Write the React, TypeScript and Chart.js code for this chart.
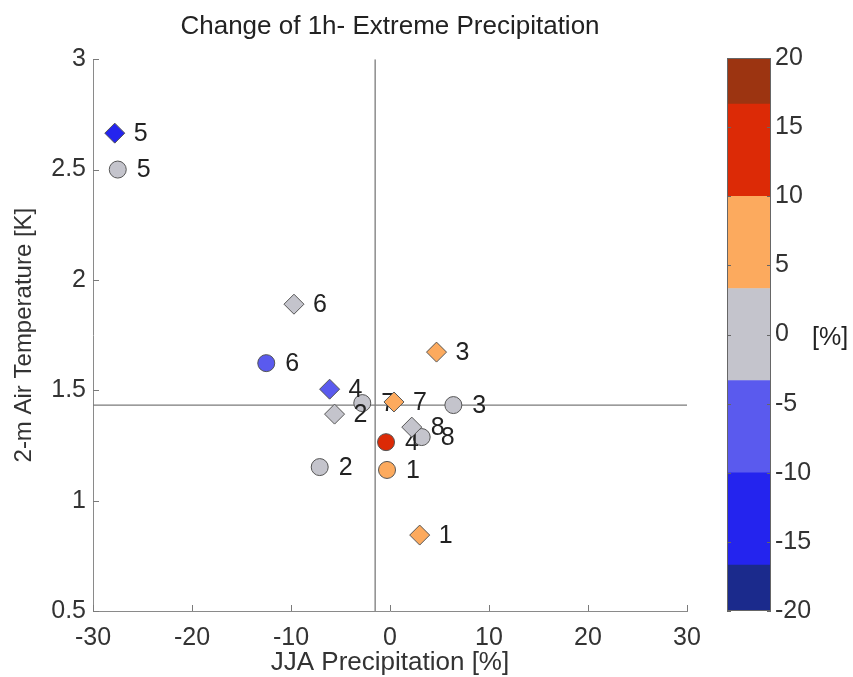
import React, { useEffect, useRef } from 'react';
import { Chart, registerables } from 'chart.js';

Chart.register(...registerables);

const FONT = '"Liberation Sans", Arial, Helvetica, sans-serif';

// ---- data ----
const circleLabels = ['5', '6', '7', '3', '8', '4', '2', '1'];
const circleX = [-27.5, -12.5, -2.8, 6.4, 3.2, -0.4, -7.1, -0.3];
const circleY = [2.5, 1.623, 1.442, 1.433, 1.288, 1.265, 1.152, 1.139];
const circleChange = [0, -7, 0, 0, 0, 12, 0, 6];

const diamondLabels = ['5', '6', '4', '2', '7', '3', '8', '1'];
const diamondX = [-27.8, -9.7, -6.1, -5.6, 0.4, 4.7, 2.2, 3.0];
const diamondY = [2.665, 1.89, 1.505, 1.392, 1.447, 1.673, 1.333, 0.844];
const diamondChange = [-13, 0, -7, 0, 6, 6, 0, 6];

const refX = -1.5;
const refY = 1.433;

const xTicks = [-30, -20, -10, 0, 10, 20, 30];
const yTicks = [0.5, 1, 1.5, 2, 2.5, 3];

const cbEdges = [-20, -16.67, -10, -3.33, 3.33, 10, 16.67, 20];
const cbColors = ['#1b2a8c', '#2424ee', '#5a5aee', '#c4c4cc', '#fcaa5e', '#dc2a06', '#9c3411'];
const cbTicks = [-20, -15, -10, -5, 0, 5, 10, 15, 20];

function colorFor(v: number): string {
  for (let i = 0; i < cbColors.length; i++) {
    if (v >= cbEdges[i] && v < cbEdges[i + 1]) return cbColors[i];
  }
  return v < cbEdges[0] ? cbColors[0] : cbColors[cbColors.length - 1];
}

const pointLabelsPlugin = {
  id: 'pointLabels',
  afterDatasetDraw(chart: any, args: any) {
    const ds: any = chart.data.datasets[args.index];
    const texts: string[] | undefined = ds.pointLabels;
    if (!texts) return;
    const ctx = chart.ctx;
    ctx.save();
    ctx.font = `25px ${FONT}`;
    ctx.fillStyle = '#222';
    ctx.textAlign = 'left';
    ctx.textBaseline = 'middle';
    args.meta.data.forEach((el: any, i: number) => {
      ctx.fillText(texts[i], el.x + 19, el.y + 1);
    });
    ctx.restore();
  },
};

const axisTicksPlugin = {
  id: 'axisTicks',
  afterDraw(chart: any) {
    const { ctx, chartArea, scales } = chart;
    ctx.save();
    ctx.strokeStyle = '#7a7a7a';
    ctx.lineWidth = 1;
    xTicks.forEach((v) => {
      const px = Math.round(scales.x.getPixelForValue(v)) + 0.5;
      ctx.beginPath();
      ctx.moveTo(px, chartArea.bottom);
      ctx.lineTo(px, chartArea.bottom - 6);
      ctx.stroke();
    });
    yTicks.forEach((v) => {
      const py = Math.round(scales.y.getPixelForValue(v)) + 0.5;
      ctx.beginPath();
      ctx.moveTo(chartArea.left, py);
      ctx.lineTo(chartArea.left + 6, py);
      ctx.stroke();
    });
    ctx.restore();
  },
};

const colorbarDecor = {
  id: 'colorbarDecor',
  afterDraw(chart: any) {
    const { ctx, chartArea, scales } = chart;
    ctx.save();
    ctx.strokeStyle = '#666';
    ctx.lineWidth = 1;
    ctx.strokeRect(
      Math.round(chartArea.left) + 0.5,
      Math.round(chartArea.top) + 0.5,
      Math.round(chartArea.right - chartArea.left) - 1,
      Math.round(chartArea.bottom - chartArea.top) - 1
    );
    cbTicks.forEach((v) => {
      const py = Math.round(scales.y.getPixelForValue(v)) + 0.5;
      ctx.beginPath();
      ctx.moveTo(chartArea.left, py);
      ctx.lineTo(chartArea.left + 4, py);
      ctx.moveTo(chartArea.right, py);
      ctx.lineTo(chartArea.right - 4, py);
      ctx.stroke();
    });
    ctx.font = `25px ${FONT}`;
    ctx.fillStyle = '#222';
    ctx.textAlign = 'left';
    ctx.textBaseline = 'middle';
    ctx.fillText('[%]', chartArea.right + 41, scales.y.getPixelForValue(0) + 4);
    ctx.restore();
  },
};

export default function App() {
  const mainRef = useRef<HTMLCanvasElement>(null);
  const cbRef = useRef<HTMLCanvasElement>(null);

  useEffect(() => {
    const tickFont = { family: FONT, size: 25 };
    const main = new Chart(mainRef.current as HTMLCanvasElement, {
      type: 'scatter',
      data: {
        datasets: [
          {
            label: 'circles',
            data: circleX.map((x, i) => ({ x, y: circleY[i] })),
            pointStyle: 'circle',
            pointRadius: 8.5,
            pointBackgroundColor: circleChange.map(colorFor),
            backgroundColor: circleChange.map(colorFor),
            pointBorderColor: '#555',
            borderColor: '#555',
            pointBorderWidth: 1,
            order: 2,
            pointLabels: circleLabels,
          } as any,
          {
            label: 'diamonds',
            data: diamondX.map((x, i) => ({ x, y: diamondY[i] })),
            pointStyle: 'rectRot',
            pointRadius: 10,
            pointBackgroundColor: diamondChange.map(colorFor),
            backgroundColor: diamondChange.map(colorFor),
            pointBorderColor: '#555',
            borderColor: '#555',
            pointBorderWidth: 1,
            order: 1,
            pointLabels: diamondLabels,
          } as any,
          {
            type: 'line',
            label: 'refV',
            data: [
              { x: refX, y: 0.5 },
              { x: refX, y: 3 },
            ],
            borderColor: '#7a7a7a',
            borderWidth: 1.3,
            pointRadius: 0,
            showLine: true,
            order: 3,
          } as any,
          {
            type: 'line',
            label: 'refH',
            data: [
              { x: -30, y: refY },
              { x: 30, y: refY },
            ],
            borderColor: '#7a7a7a',
            borderWidth: 1.3,
            pointRadius: 0,
            showLine: true,
            order: 3,
          } as any,
        ],
      },
      options: {
        animation: false,
        responsive: false,
        maintainAspectRatio: false,
        events: [],
        layout: { padding: { left: 0, right: 853 - 687, top: 0, bottom: 0 } },
        plugins: {
          legend: { display: false },
          tooltip: { enabled: false },
          title: {
            display: true,
            text: 'Change of 1h- Extreme Precipitation',
            font: { family: FONT, size: 26, weight: 'normal' },
            color: '#222',
            padding: { top: 11, bottom: 17 },
            fullSize: false,
          } as any,
        },
        scales: {
          x: {
            type: 'linear',
            min: -30,
            max: 30,
            afterBuildTicks: (s: any) => {
              s.ticks = xTicks.map((v) => ({ value: v }));
            },
            afterFit: (s: any) => {
              s.height = 677 - 611;
            },
            grid: { display: true, drawOnChartArea: false, drawTicks: false },
            border: { display: true, color: '#8a8a8a', width: 1 },
            ticks: {
              font: tickFont,
              color: '#333',
              padding: 12,
              maxRotation: 0,
              autoSkip: false,
              callback: (v: any) => String(v),
            },
            title: {
              display: true,
              text: 'JJA Precipitation [%]',
              font: { family: FONT, size: 26, lineHeight: 1 },
              color: '#333',
              padding: { top: 0, bottom: 1 },
            },
          },
          y: {
            type: 'linear',
            min: 0.5,
            max: 3,
            afterBuildTicks: (s: any) => {
              s.ticks = yTicks.map((v) => ({ value: v }));
            },
            afterFit: (s: any) => {
              s.width = 93;
            },
            grid: { display: true, drawOnChartArea: false, drawTicks: false },
            border: { display: true, color: '#8a8a8a', width: 1 },
            ticks: {
              font: tickFont,
              color: '#333',
              padding: 7,
              autoSkip: false,
              callback: (v: any) => String(v),
            },
            title: {
              display: true,
              text: '2-m Air Temperature [K]',
              font: { family: FONT, size: 24, lineHeight: 1 },
              color: '#333',
              padding: { top: 12, bottom: 0 },
            },
          },
        },
      } as any,
      plugins: [pointLabelsPlugin, axisTicksPlugin],
    });

    const cb = new Chart(cbRef.current as HTMLCanvasElement, {
      type: 'bar',
      data: {
        labels: [''],
        datasets: cbColors.map((c, i) => ({
          label: `band${i}`,
          data: [[cbEdges[i], cbEdges[i + 1]]],
          backgroundColor: c,
          borderWidth: 0,
          barPercentage: 1,
          categoryPercentage: 1,
          grouped: false,
        })) as any,
      },
      options: {
        animation: false,
        responsive: false,
        maintainAspectRatio: false,
        events: [],
        layout: { padding: { left: 27, top: 58, bottom: 677 - 611, right: 0 } },
        plugins: { legend: { display: false }, tooltip: { enabled: false } },
        scales: {
          x: { display: false },
          y: {
            type: 'linear',
            position: 'right',
            min: -20,
            max: 20,
            afterBuildTicks: (s: any) => {
              s.ticks = cbTicks.map((v) => ({ value: v }));
            },
            afterFit: (s: any) => {
              s.width = 153 - 71;
            },
            grid: { display: false, drawTicks: false },
            border: { display: false },
            ticks: {
              font: tickFont,
              color: '#333',
              padding: 4,
              autoSkip: false,
              callback: (v: any) => String(v),
            },
          },
        },
      } as any,
      plugins: [colorbarDecor],
    });

    return () => {
      main.destroy();
      cb.destroy();
    };
  }, []);

  return (
    <div style={{ position: 'fixed', left: 0, top: 0, width: 853, height: 677, background: '#fff' }}>
      <canvas
        ref={mainRef}
        width={853}
        height={677}
        style={{ position: 'absolute', left: 0, top: 0, width: 853, height: 677 }}
      />
      <canvas
        ref={cbRef}
        width={153}
        height={677}
        style={{ position: 'absolute', left: 700, top: 0, width: 153, height: 677 }}
      />
    </div>
  );
}
